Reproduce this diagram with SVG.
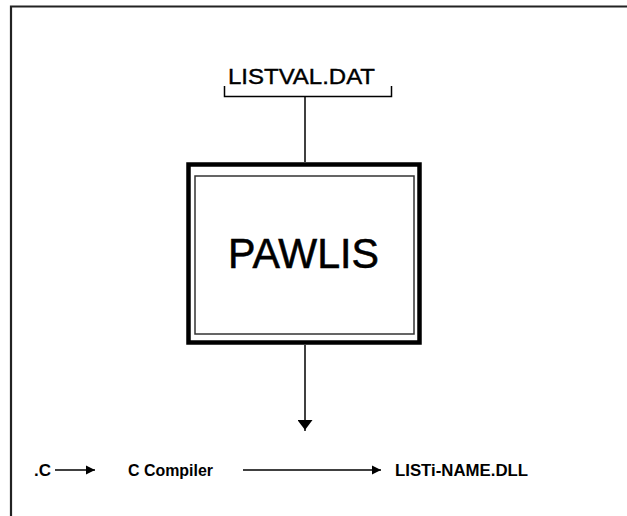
<svg xmlns="http://www.w3.org/2000/svg" width="627" height="516" viewBox="0 0 627 516">
<style>
.t{font-family:"Liberation Sans",Arial,sans-serif;fill:#000}
.s{font-size:17px;font-weight:bold}
.ln{stroke:#000;stroke-width:1.5;fill:none}
</style>
<defs>
<marker id="ah" markerWidth="10" markerHeight="10" refX="9" refY="5" orient="auto" markerUnits="userSpaceOnUse">
<path d="M0,0.5 L9,5 L0,9.5 Z" fill="#000"/>
</marker>
<marker id="ahd" markerWidth="16" markerHeight="12" refX="7.5" refY="11" orient="0" markerUnits="userSpaceOnUse">
<path d="M0,0 L15,0 L7.5,10 Z" fill="#000"/>
</marker>
</defs>
<rect width="627" height="516" fill="#fff"/>
<path d="M11,516 V6.5 H627" stroke="#222" stroke-width="2.2" fill="none"/>
<g id="listval">
<text class="t" x="228" y="83.5" font-size="22" stroke="#000" stroke-width="0.4" textLength="147" lengthAdjust="spacingAndGlyphs">LISTVAL.DAT</text>
<path class="ln" d="M224.5,86 V96.5 H391.5 V86"/>
</g>
<g id="pawlis">
<rect x="188.5" y="164.5" width="231" height="178" fill="#fff" stroke="#000" stroke-width="4.5"/>
<rect x="195" y="176" width="219" height="158" fill="none" stroke="#333" stroke-width="1.5"/>
<text class="t" x="228" y="268" font-size="43" stroke="#000" stroke-width="0.6" textLength="151" lengthAdjust="spacingAndGlyphs">PAWLIS</text>
</g>
<g id="src"><text class="t s" x="34" y="476" font-weight="normal" textLength="17" lengthAdjust="spacingAndGlyphs">.C</text></g>
<g id="compiler"><text class="t s" x="128" y="476" textLength="85" lengthAdjust="spacingAndGlyphs">C Compiler</text></g>
<g id="dll"><text class="t s" x="395" y="476" textLength="133" lengthAdjust="spacingAndGlyphs">LISTi-NAME.DLL</text></g>
<g id="connectors">
<path class="ln" d="M305,97 V162"/>
<path class="ln" d="M305,345 V431" marker-end="url(#ahd)"/>
<path class="ln" d="M55,470 H95" marker-end="url(#ah)"/>
<path class="ln" d="M243,470 H381" marker-end="url(#ah)"/>
</g>
</svg>
